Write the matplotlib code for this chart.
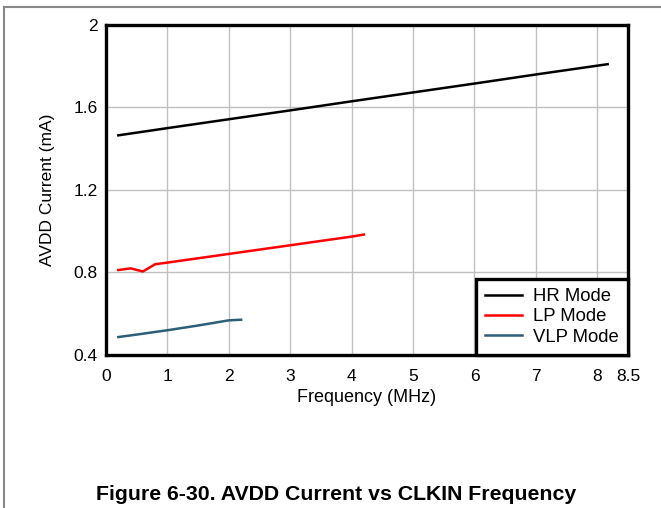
import numpy as np
import matplotlib.pyplot as plt
from matplotlib.lines import Line2D

plt.rcParams['font.family'] = ['Liberation Sans', 'DejaVu Sans']

# data
hr_x = [0.2, 1, 2, 3, 4, 5, 6, 7, 8.17]
hr_y = [1.465, 1.500, 1.543, 1.586, 1.630, 1.673, 1.716, 1.760, 1.810]
lp_x = [0.2, 0.4, 0.6, 0.8, 1, 2, 3, 4, 4.2]
lp_y = [0.812, 0.820, 0.805, 0.840, 0.848, 0.890, 0.932, 0.974, 0.984]
vlp_x = [0.2, 0.5, 1, 1.5, 2, 2.2]
vlp_y = [0.487, 0.499, 0.520, 0.543, 0.568, 0.571]

xticks = [0, 1, 2, 3, 4, 5, 6, 7, 8, 8.5]
xlabels = ['0', '1', '2', '3', '4', '5', '6', '7', '8', '8.5']
yticks = [0.4, 0.8, 1.2, 1.6, 2.0]
ylabels = ['0.4', '0.8', '1.2', '1.6', '2']

fig = plt.figure(figsize=(6.61, 5.08), dpi=100)
ax = fig.add_axes([0.1604, 0.3012, 0.7896, 0.6496])

ax.plot(hr_x, hr_y, color='black', linewidth=1.8, label='HR Mode')
ax.plot(lp_x, lp_y, color='#ff0000', linewidth=1.8, label='LP Mode')
ax.plot(vlp_x, vlp_y, color='#2e5f78', linewidth=1.8, label='VLP Mode')

ax.set_xlim(0, 8.5)
ax.set_ylim(0.4, 2.0)
ax.set_xticks(xticks)
ax.set_xticklabels(xlabels)
ax.set_yticks(yticks)
ax.set_yticklabels(ylabels)
ax.tick_params(length=0, labelsize=12.5)
ax.tick_params(axis='x', pad=10)
ax.tick_params(axis='y', pad=6)
ax.grid(True, color='#c0c0c0', linewidth=1)
ax.set_axisbelow(True)
for s in ax.spines.values():
    s.set_linewidth(2.4)

ax.set_xlabel('Frequency (MHz)', fontsize=13, labelpad=4)
ax.set_ylabel('AVDD Current (mA)', fontsize=12.5, labelpad=13)

leg = ax.legend(loc='lower right', fontsize=13.3, fancybox=False, framealpha=1,
                edgecolor='black', borderaxespad=0, handlelength=2.0,
                labelspacing=0.18, borderpad=0.5, handletextpad=0.6)
leg.get_frame().set_linewidth(2.4)

fig.text(0.508, 0.008, 'Figure 6-30. AVDD Current vs CLKIN Frequency',
         ha='center', va='bottom', fontsize=15.3, fontweight='bold')

# page frame lines
fig.add_artist(Line2D([0.006, 1], [0.986, 0.986], color='#888888', linewidth=1.5))
fig.add_artist(Line2D([0.006, 0.006], [0, 0.986], color='#888888', linewidth=1.5))

fig.savefig('out.png', dpi=100)
